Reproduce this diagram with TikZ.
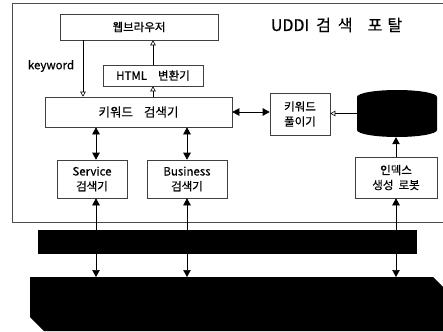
\documentclass[tikz,border=0pt]{standalone}
\usepackage{fontspec}
\setmainfont[FakeBold=0.5]{Noto Sans CJK KR}
\usetikzlibrary{arrows.meta}
\tikzset{
  box/.style={draw=black!75,line width=0.6pt,align=center,inner sep=1pt,font=\fontsize{11.5}{15}\selectfont},
  solidtip/.style={-{Triangle[length=7pt,width=7.5pt]}},
  bothtip/.style={{Triangle[length=7pt,width=7.5pt]}-{Triangle[length=7pt,width=7.5pt]}},
  opentip/.style={-{Triangle[open,length=5pt,width=5.5pt]}},
  link/.style={line width=0.6pt}
}

\begin{document}
\begin{tikzpicture}[x=1pt,y=-1pt]
  \useasboundingbox (0,0) rectangle (443,331);
  % portal frame
  \draw[black!70,line width=0.6pt] (443,3) -- (12,3) -- (12,222) -- (443,222);
  \node[font=\fontsize{16}{18}\selectfont] (title) at (336.5,25) {UDDI\hspace{7pt}검\hspace{7pt}색\hspace{15pt}포\hspace{5pt}탈};

  \node[box,minimum width=158,minimum height=26] (browser) at (139,27) {웹브라우저};
  \node[box,minimum width=100,minimum height=21] (html) at (153,75.5) {HTML\hspace{11pt}변환기};
  \node[box,minimum width=187,minimum height=30,font=\fontsize{12.5}{15}\selectfont] (search) at (138.5,112) {키워드\hspace{11pt}검색기};
  \node[box,minimum width=60,minimum height=42] (parser) at (300,114) {키워드\\풀이기};
  % index database
  \node[minimum width=80,minimum height=47,inner sep=0] (db) at (397,113.5) {};
  \fill (357,97) arc[x radius=40,y radius=7,start angle=180,end angle=360]
    -- (437,130) arc[x radius=40,y radius=7,start angle=0,end angle=180] -- cycle;
  \node[box,minimum width=82,minimum height=41] (robot) at (396,177.5) {인덱스\\생성\hspace{5pt}로봇};
  \node[box,minimum width=70,minimum height=38] (service) at (92,179) {Service\\검색기};
  \node[box,minimum width=80,minimum height=38] (business) at (187,179) {Business\\검색기};

  \node[fill=black,minimum width=379,minimum height=24,inner sep=0] (bar) at (227.5,242) {};
  \fill (30,277) -- (433,277) -- (445,289) -- (445,331) -- (44,331) -- (30,317) -- cycle;
  \coordinate (core) at (0,277);

  % keyword flow
  \draw[link,opentip] (browser.south -| 83,0) -- (search.north -| 83,0);
  \node[font=\fontsize{11.5}{13}\selectfont] (kw) at (51,66) {keyword};
  \draw[link,opentip] (search.north -| html.north) -- (html.south);
  \draw[link,opentip] (html.north) -- (browser.south -| html.north);
  \draw[link,bothtip] (search.east) -- (search.east -| parser.west);
  \draw[link,opentip] (db.west) -- (db.west -| parser.east);
  \draw[link,solidtip] (robot.north) -- (robot.north |- db.south);
  \draw[link,bothtip] ([xshift=4]service.north) -- ([xshift=4]service.north |- search.south);
  \draw[link,bothtip] (business.north) -- (business.north |- search.south);

  % bus links
  \foreach \n/\dx in {service/4,business/0,robot/0} {
    \draw[link,solidtip] ([xshift=\dx]\n.south |- bar.north) -- ([xshift=\dx]\n.south);
    \draw[link,solidtip] ([xshift=\dx]\n.south |- bar.south) -- ([xshift=\dx]\n.south |- core);
  }
\end{tikzpicture}
\end{document}
